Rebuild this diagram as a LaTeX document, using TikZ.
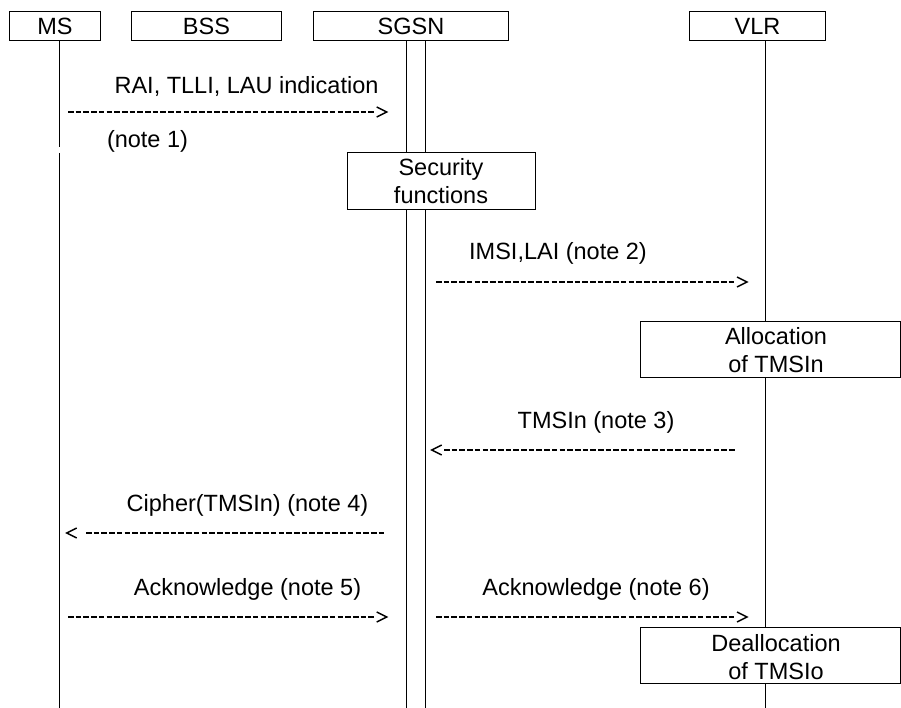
\documentclass[tikz,border=0pt]{standalone}
\usepackage{fontspec}
\setmainfont{Liberation Sans}
\begin{document}
\begin{tikzpicture}[x=1pt,y=-1pt,
  every node/.style={font=\fontsize{23.5}{28}\selectfont, inner sep=0pt, outer sep=0pt},
  hdr/.style={draw, line width=1pt, minimum height=29pt, text height=17pt, text depth=0pt},
  life/.style={line width=1pt},
  msg/.style={line width=1.9pt, dash pattern=on 5.6pt off 2.1pt},
  chev/.style={line width=1.4pt, solid},
  actbox/.style={draw, fill=white, line width=1pt},
  lbl/.style={anchor=base},
  chevR/.pic={\draw[chev] (-10,-5) -- (0,0) -- (-10,5);},
  chevL/.pic={\draw[chev] (10,-5) -- (0,0) -- (10,5);}]
\useasboundingbox (0,0) rectangle (901,708);

% header boxes
\node[hdr, minimum width=91pt] (ms) at (55,26.5) {MS};
\node[hdr, minimum width=150pt] (bss) at (206.5,26.5) {BSS};
\node[hdr, minimum width=195pt] (sgsn) at (411,26.5) {SGSN};
\node[hdr, minimum width=136pt] (vlr) at (757.5,26.5) {VLR};

% lifelines
\coordinate (msa) at ([xshift=4.5pt]ms.south);
\coordinate (msb) at (59.5,147);
\coordinate (msc) at (59.5,153);
\coordinate (msd) at (59.5,708);
\draw[life] (msa) -- (msb);
\draw[life] (msc) -- (msd);
\coordinate (sga) at ([xshift=-4.5pt]sgsn.south);
\coordinate (sgb) at (406.5,708);
\coordinate (sgc) at ([xshift=14.5pt]sgsn.south);
\coordinate (sgd) at (425.5,708);
\draw[life] (sga) -- (sgb);
\draw[life] (sgc) -- (sgd);
\coordinate (vla) at ([xshift=8pt]vlr.south);
\coordinate (vlb) at (765.5,708);
\draw[life] (vla) -- (vlb);

% action boxes
\node[actbox, minimum width=188pt, minimum height=56.5pt, align=center] (sec) at (441,181) {Security\\functions};
\node[actbox, minimum width=260.5pt, minimum height=56pt] (alloc) at (770.25,349) {};
\node[align=center] (alloct) at (776,350.5) {Allocation\\of TMSIn};
\node[actbox, minimum width=260.5pt, minimum height=56pt] (dealloc) at (770.25,655.3) {};
\node[align=center] (dealloct) at (776,657) {Deallocation\\of TMSIo};

% labels
\node[lbl] (t1) at (246.5,94) {RAI, TLLI, LAU indication};
\node[lbl, anchor=base west] (n1) at (107,148) {(note 1)};
\node[lbl] (t2) at (558,260) {IMSI,LAI (note 2)};
\node[lbl] (t3) at (596,428) {TMSIn (note 3)};
\node[lbl] (t4) at (247.5,511.7) {Cipher(TMSIn) (note 4)};
\node[lbl] (t5) at (247.5,595) {Acknowledge (note 5)};
\node[lbl] (t6) at (596,595) {Acknowledge (note 6)};

% messages
\coordinate (a1s) at (68,112); \coordinate (a1e) at (373.9,112); \coordinate (a1t) at (386.7,112);
\draw[msg] (a1s) -- (a1e); \pic at (a1t) {chevR};
\coordinate (a2s) at (436,282); \coordinate (a2e) at (734.2,282); \coordinate (a2t) at (747,282);
\draw[msg] (a2s) -- (a2e); \pic at (a2t) {chevR};
\coordinate (a3t) at (431.7,450); \coordinate (a3s) at (444,450); \coordinate (a3e) at (734.5,450);
\draw[msg] (a3s) -- (a3e); \pic at (a3t) {chevL};
\coordinate (a4t) at (66.7,533); \coordinate (a4s) at (86,533); \coordinate (a4e) at (384.2,533);
\draw[msg] (a4s) -- (a4e); \pic at (a4t) {chevL};
\coordinate (a5s) at (68,617); \coordinate (a5e) at (373.9,617); \coordinate (a5t) at (386.7,617);
\draw[msg] (a5s) -- (a5e); \pic at (a5t) {chevR};
\coordinate (a6s) at (436,617); \coordinate (a6e) at (734.2,617); \coordinate (a6t) at (747,617);
\draw[msg] (a6s) -- (a6e); \pic at (a6t) {chevR};
\end{tikzpicture}
\end{document}
